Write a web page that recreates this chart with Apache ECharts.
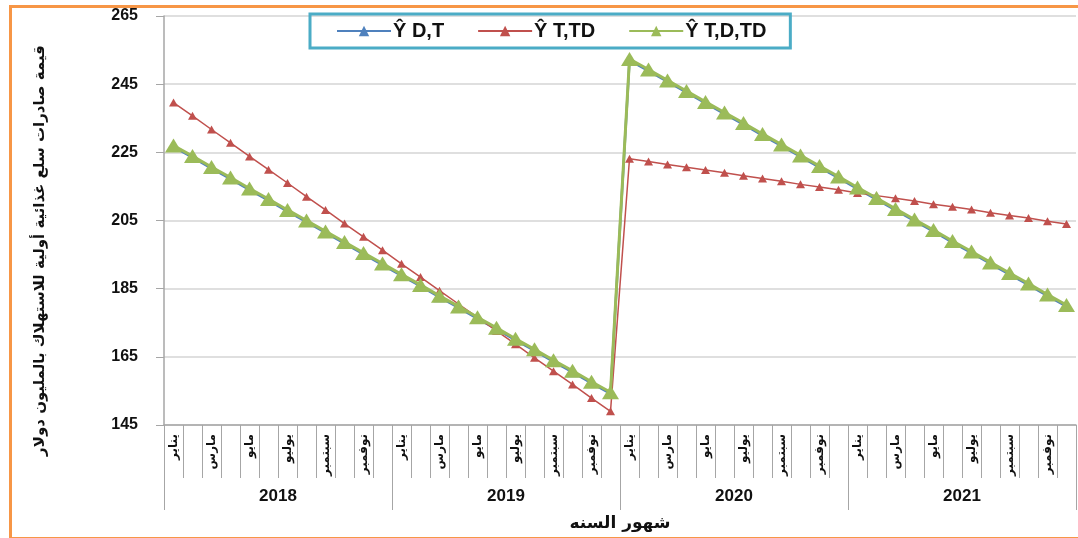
<!DOCTYPE html>
<html><head><meta charset="utf-8">
<script src="https://cdn.jsdelivr.net/npm/echarts@6/dist/echarts.min.js"></script>
<style>html,body{margin:0;padding:0;background:#fff}#c{width:1078px;height:538px}</style>
</head><body><div id="c"></div>
<script>
var monthNames = ['يناير','فبراير','مارس','أبريل','مايو','يونيو','يوليو','أغسطس','سبتمبر','أكتوبر','نوفمبر','ديسمبر'];
var years = ['2018','2019','2020','2021'];
var categories = [];
years.forEach(function(y){ monthNames.forEach(function(m){ categories.push(m); }); });

var yTicks = [145, 165, 185, 205, 225, 245, 265];

var seriesDT = [226.6, 223.5, 220.3, 217.2, 214.0, 210.9, 207.7, 204.6, 201.4, 198.3, 195.1, 192.0,
  188.8, 185.7, 182.5, 179.4, 176.2, 173.1, 169.9, 166.8, 163.6, 160.5, 157.3, 154.2,
  252.0, 248.9, 245.7, 242.6, 239.4, 236.3, 233.2, 230.0, 226.9, 223.7, 220.6, 217.5,
  214.3, 211.2, 208.0, 204.9, 201.8, 198.6, 195.5, 192.3, 189.2, 186.1, 182.9, 179.8];
var seriesTTD = [239.6, 235.7, 231.7, 227.8, 223.8, 219.9, 216.0, 212.0, 208.1, 204.1, 200.2, 196.3,
  192.3, 188.4, 184.4, 180.5, 176.6, 172.6, 168.7, 164.7, 160.8, 156.9, 152.9, 149.0,
  223.1, 222.3, 221.4, 220.6, 219.8, 219.0, 218.1, 217.3, 216.5, 215.6, 214.8, 214.0,
  213.1, 212.3, 211.5, 210.7, 209.8, 209.0, 208.2, 207.3, 206.5, 205.7, 204.8, 204.0];
var seriesTDTD = [227.0, 223.9, 220.7, 217.6, 214.4, 211.3, 208.1, 205.0, 201.8, 198.7, 195.5, 192.4,
  189.2, 186.1, 182.9, 179.8, 176.6, 173.5, 170.3, 167.2, 164.0, 160.9, 157.7, 154.6,
  252.4, 249.3, 246.1, 243.0, 239.8, 236.7, 233.6, 230.4, 227.3, 224.1, 221.0, 217.9,
  214.7, 211.6, 208.4, 205.3, 202.2, 199.0, 195.9, 192.7, 189.6, 186.5, 183.3, 180.2];

var names = ['Ŷ D,T', 'Ŷ T,TD', 'Ŷ T,D,TD'];
var arFont = 'DejaVu Sans';
var numFont = 'Liberation Sans';

var chart = echarts.init(document.getElementById('c'), null, {renderer: 'canvas'});
chart.setOption({
  animation: false,
  backgroundColor: '#fff',
  graphic: [{
    type: 'rect', left: 8, top: 4, silent: true, z: 100,
    shape: {width: 1100, height: 532},
    style: {fill: 'none', stroke: '#F79646', lineWidth: 3}
  }],
  legend: {
    left: 310, top: 14,
    data: names,
    borderColor: '#4BACC6', borderWidth: 3,
    padding: [7, 24, 7, 26],
    itemWidth: 54, itemHeight: 13, itemGap: 33,
    textStyle: {fontFamily: numFont, fontWeight: 'bold', fontSize: 20, color: '#111', padding: [0, 0, 0, -3]}
  },
  grid: {left: 164, right: 2, top: 16, bottom: 113, containLabel: false},
  xAxis: [{
    type: 'category', data: categories, boundaryGap: true,
    axisLine: {lineStyle: {color: '#A6A6A6', width: 1.5}},
    axisTick: {show: true, interval: 0, length: 53, lineStyle: {color: '#A6A6A6', width: 1}},
    axisLabel: {interval: 1, rotate: 90, margin: 9, fontFamily: arFont, fontWeight: 'bold', fontSize: 12, color: '#111'},
    name: 'شهور السنه', nameLocation: 'middle', nameGap: 90,
    nameTextStyle: {fontFamily: arFont, fontWeight: 'bold', fontSize: 17, color: '#111'}
  }, {
    type: 'category', data: years, boundaryGap: true, position: 'bottom',
    axisLine: {show: false},
    axisTick: {show: true, length: 85, lineStyle: {color: '#A6A6A6', width: 1}},
    axisLabel: {margin: 63, fontFamily: numFont, fontWeight: 'bold', fontSize: 17, color: '#111'}
  }],
  yAxis: {
    type: 'value', min: 145, max: 265, interval: 20,
    axisLine: {show: true, lineStyle: {color: '#A6A6A6', width: 1.5}},
    axisTick: {show: true, length: 8, lineStyle: {color: '#A6A6A6'}},
    splitLine: {lineStyle: {color: '#D4D4D4', width: 1.5}},
    axisLabel: {margin: 26, fontFamily: numFont, fontWeight: 'bold', fontSize: 16, color: '#111',
      formatter: function(v){ return yTicks.indexOf(v) >= 0 ? String(v) : ''; }},
    name: 'قيمة صادرات سلع غذائية أولية للاستهلاك بالمليون دولار',
    nameLocation: 'middle', nameGap: 116, nameRotate: 90,
    nameTextStyle: {fontFamily: arFont, fontWeight: 'bold', fontSize: 15, color: '#111', padding: [0, 60, 0, 0]}
  },
  series: [{
    name: names[0], type: 'line', data: seriesDT, xAxisIndex: 0,
    symbol: 'triangle', symbolSize: [12, 10], showAllSymbol: true,
    lineStyle: {color: '#4F81BD', width: 2.5}, itemStyle: {color: '#4F81BD'}, z: 2
  }, {
    name: names[1], type: 'line', data: seriesTTD, xAxisIndex: 0,
    symbol: 'triangle', symbolSize: [9, 8], showAllSymbol: true,
    lineStyle: {color: '#C0504D', width: 1.5}, itemStyle: {color: '#C0504D'}, z: 3
  }, {
    name: names[2], type: 'line', data: seriesTDTD, xAxisIndex: 0,
    symbol: 'triangle', symbolSize: [17, 14], showAllSymbol: true,
    lineStyle: {color: '#9BBB59', width: 3}, itemStyle: {color: '#9BBB59'}, z: 4
  }]
});
</script></body></html>
